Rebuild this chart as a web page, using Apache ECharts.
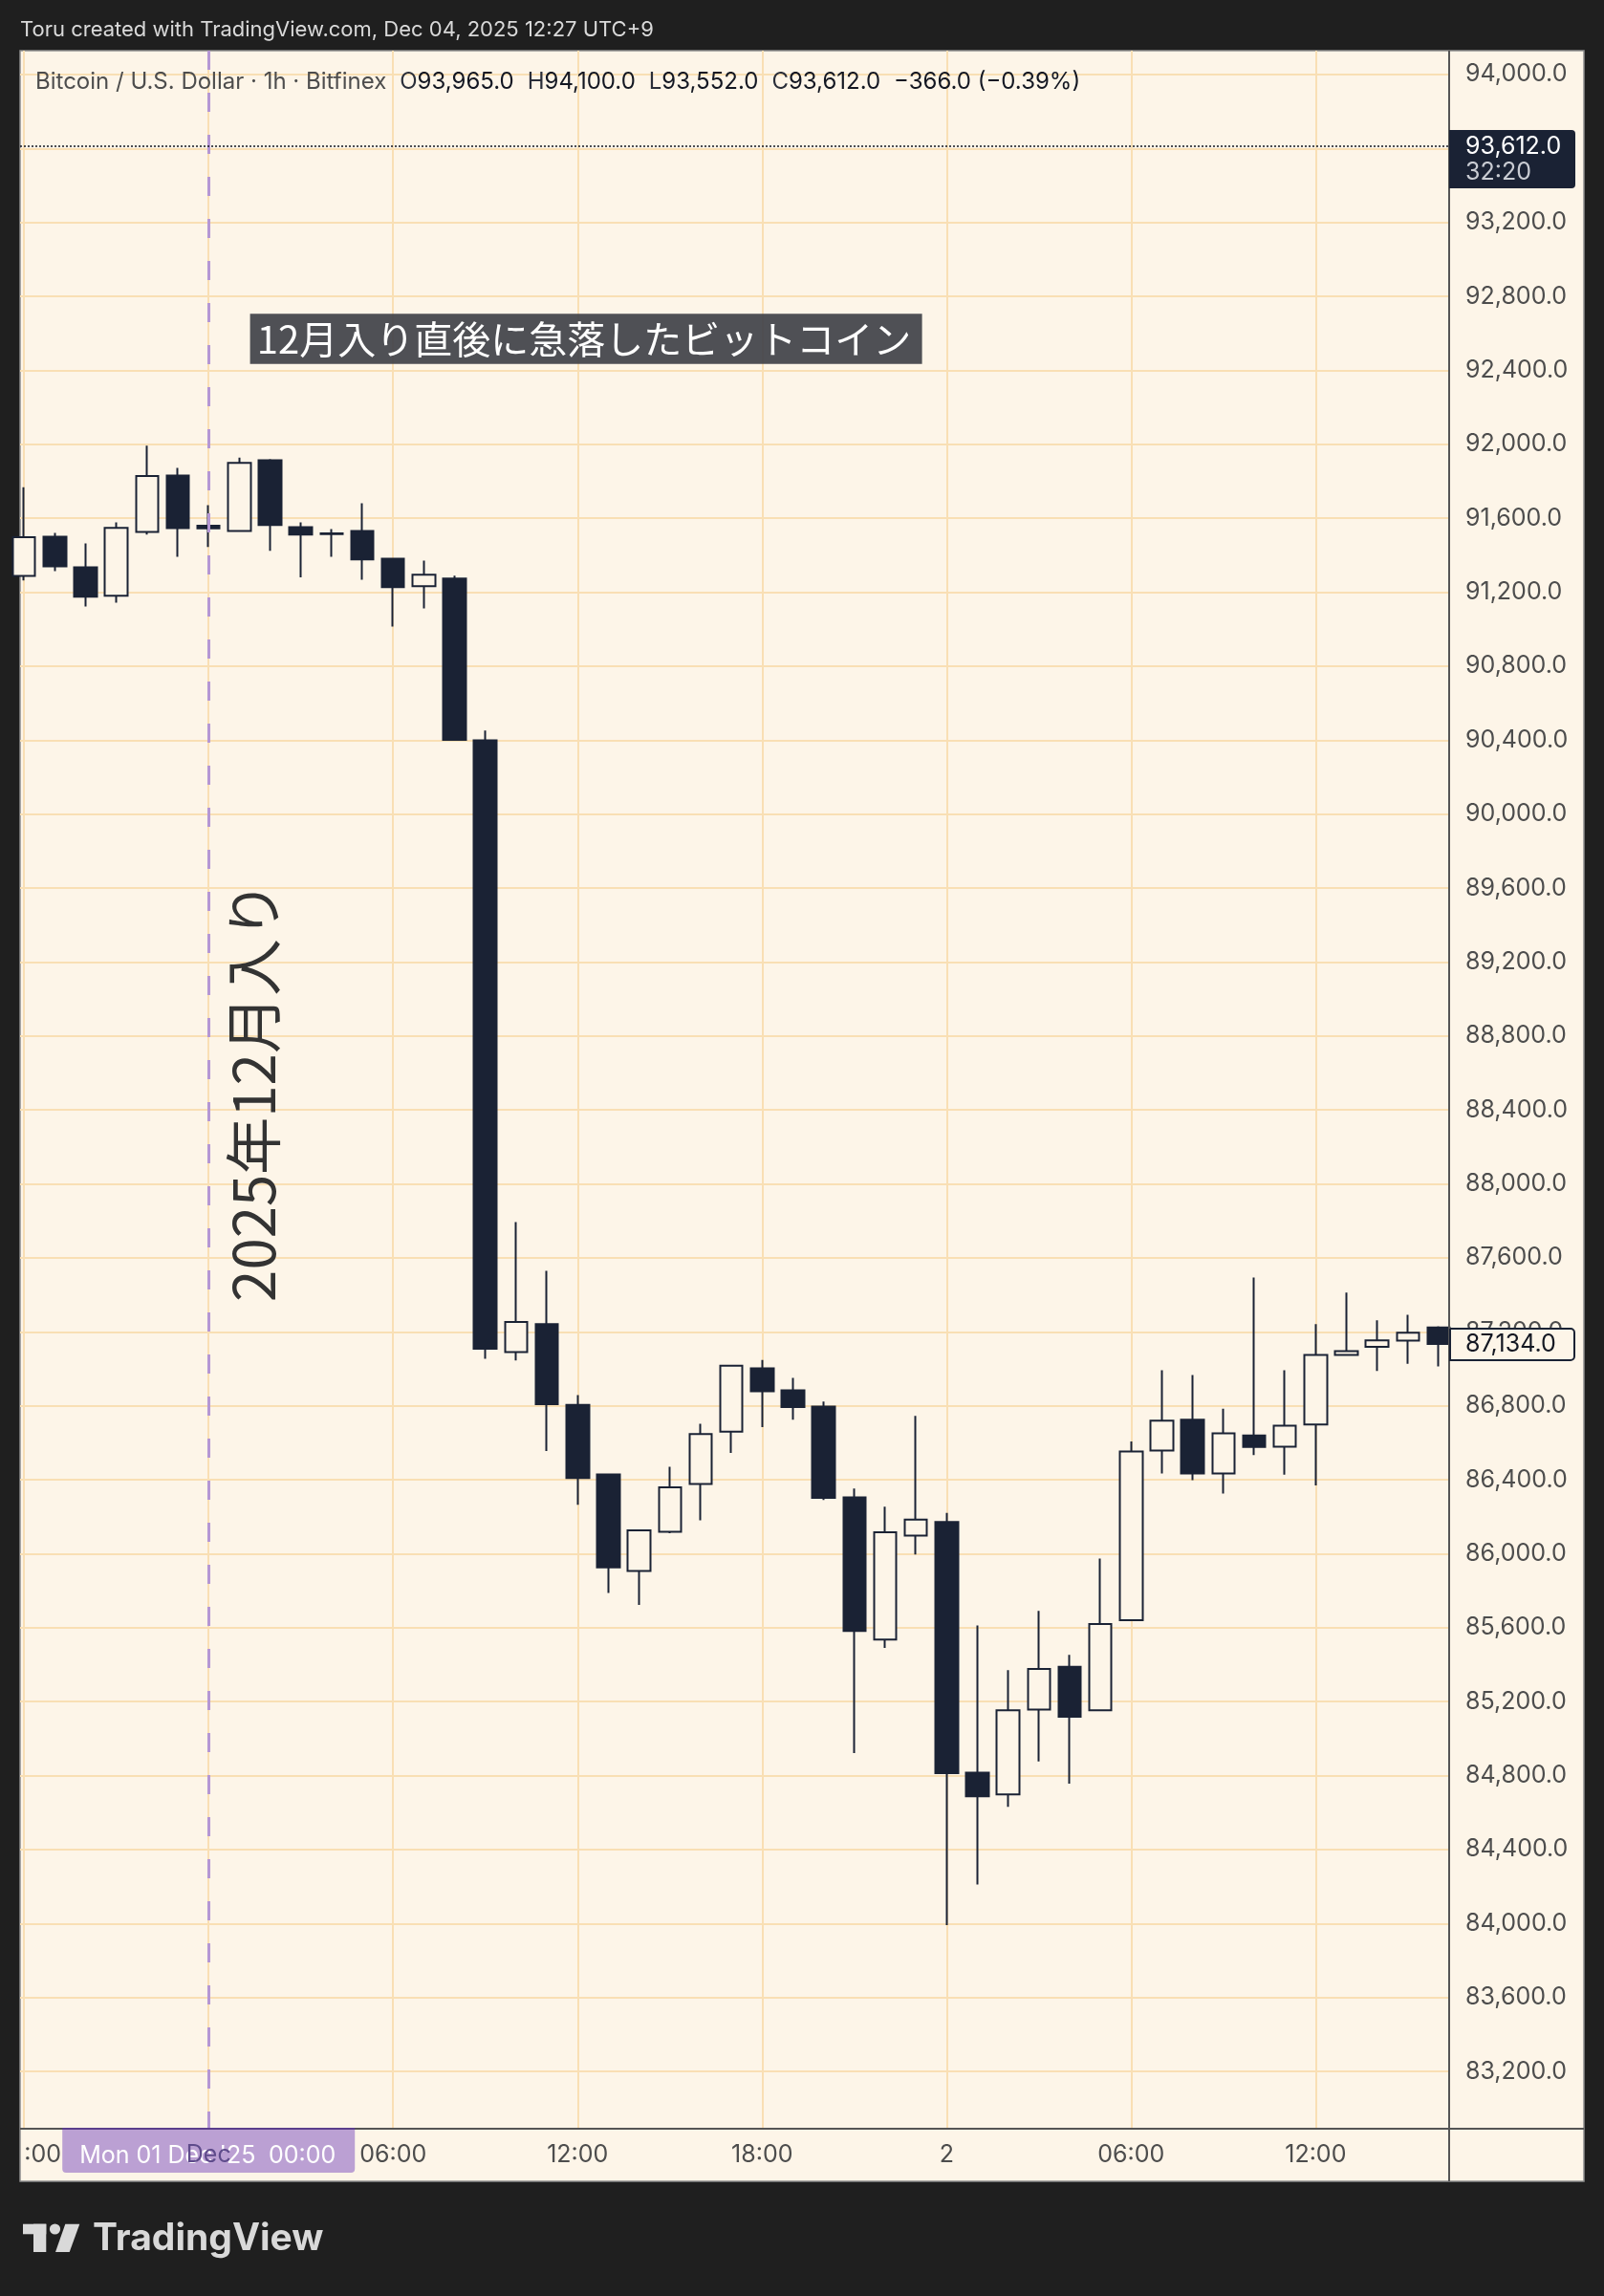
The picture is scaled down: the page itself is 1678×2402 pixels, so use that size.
<!DOCTYPE html>
<html><head><meta charset="utf-8">
<script src="https://cdn.jsdelivr.net/npm/echarts@6/dist/echarts.min.js"></script>
<style>html,body{margin:0;padding:0;background:#1f1f1f;}#c{width:1678px;height:2402px;}</style>
</head><body><div id="c"></div>
<script>
// ---- data (1h candles, Bitfinex BTC/USD) ----
const hours = [
 '11/30 18:00','11/30 19:00','11/30 20:00','11/30 21:00','11/30 22:00','11/30 23:00',
 '12/01 00:00','12/01 01:00','12/01 02:00','12/01 03:00','12/01 04:00','12/01 05:00',
 '12/01 06:00','12/01 07:00','12/01 08:00','12/01 09:00','12/01 10:00','12/01 11:00',
 '12/01 12:00','12/01 13:00','12/01 14:00','12/01 15:00','12/01 16:00','12/01 17:00',
 '12/01 18:00','12/01 19:00','12/01 20:00','12/01 21:00','12/01 22:00','12/01 23:00',
 '12/02 00:00','12/02 01:00','12/02 02:00','12/02 03:00','12/02 04:00','12/02 05:00',
 '12/02 06:00','12/02 07:00','12/02 08:00','12/02 09:00','12/02 10:00','12/02 11:00',
 '12/02 12:00','12/02 13:00','12/02 14:00','12/02 15:00','12/02 16:00'];
const openP = [91288,91500,91335,91181,91526,91831,91560,91531,91914,91552,91518,91531,
 91381,91233,91274,90399,87090,87241,86805,86429,85906,86119,86377,86660,
 87003,86883,86795,86304,85535,86098,86171,84816,84698,85157,85388,85153,
 85640,86558,86725,86434,86639,86579,86699,87075,87119,87152,87223];
const highP = [91768,91521,91464,91578,91992,91873,91671,91928,91920,91578,91542,91681,
 91385,91371,91290,90452,87793,87530,86858,86430,86126,86470,86703,87020,
 87048,86951,86823,86352,86254,86745,86221,85612,85370,85691,85453,85974,
 86607,86992,86966,86784,87493,86992,87241,87412,87262,87292,87230];
const lowP = [91264,91314,91123,91144,91512,91392,91444,91528,91424,91280,91392,91268,
 91014,91113,90400,87054,87045,86555,86264,85788,85723,86110,86181,86545,
 86685,86725,86290,84921,85490,85996,83991,84211,84631,84876,84756,85150,
 85635,86434,86397,86325,86533,86427,86369,87070,86988,87027,87013];
const closeP = [91497,91340,91176,91548,91828,91547,91545,91900,91564,91512,91515,91378,
 91228,91295,90402,87108,87253,86808,86409,85926,86126,86359,86647,87016,
 86878,86793,86302,85582,86116,86184,84813,84688,85153,85377,85118,85619,
 86553,86720,86434,86651,86577,86692,87075,87095,87154,87195,87134];
const priceTicks = [94000,93600,93200,92800,92400,92000,91600,91200,90800,90400,90000,
 89600,89200,88800,88400,88000,87600,87200,86800,86400,86000,85600,85200,84800,84400,
 84000,83600,83200];
const timeTickIdx = [0,6,12,18,24,30,36,42];
const timeTickLabels = [':00','Dec','06:00','12:00','18:00','2','06:00','12:00'];
const lastPrice = 93612, lastTimer = '32:20', lastVisibleClose = 87134;
const monthStartIdx = 6;
const legendTitle = 'Bitcoin / U.S. Dollar · 1h · Bitfinex';
const legendKeys = ['O','H','L','C'];
const legendVals = ['93,965.0','94,100.0','93,552.0','93,612.0'];
const legendChange = '−366.0 (−0.39%)';
const headerText = 'Toru created with TradingView.com, Dec 04, 2025 12:27 UTC+9';
const noteText = '12月入り直後に急落したビットコイン';
const vertText = '2025年12月入り';
const dateTag = ["Mon 01 Dec '25", '00:00'];

// ---- chart ----
const FONT = 'Inter, Roboto, "Noto Sans", sans-serif';
const JP = '"Noto Sans CJK JP", "Noto Sans", sans-serif';
const BG = '#fdf5e8', DARK = '#1a2234', GRIDC = '#f9dfb4', AX = '#4d4d4d';
const AFS = 25;
const fmt = v => Number(v).toLocaleString('en-US',{minimumFractionDigits:1,maximumFractionDigits:1});
const chart = echarts.init(document.getElementById('c'), null, {width:1678, height:2402});
const candleData = hours.map((h,i)=>[i, openP[i], closeP[i], lowP[i], highP[i]]);

chart.setOption({
  backgroundColor: '#1f1f1f',
  animation: false,
  grid: {left:21, top:53, width:1495, height:2173, containLabel:false},
  xAxis: {
    type:'value', min:-0.1306, max:46.342,
    axisLine:{show:false}, axisTick:{show:false, customValues:timeTickIdx},
    axisLabel:{customValues:timeTickIdx, alignMinLabel:'left',
      formatter: v => { const k = timeTickIdx.indexOf(v); return k===1 ? '{dec|Dec}' : timeTickLabels[k]; },
      color:AX, fontSize:AFS, fontFamily:FONT, margin:16, lineHeight:AFS,
      rich:{dec:{color:'#5e4b8b', fontSize:AFS, fontFamily:FONT, lineHeight:AFS}}},
    splitLine:{show:true, lineStyle:{color:GRIDC, width:2}}
  },
  yAxis: {
    type:'value', position:'right', min:82895, max:94129,
    axisLine:{show:false}, axisTick:{show:false, customValues:priceTicks},
    axisLabel:{customValues:priceTicks, formatter:fmt, color:AX, fontSize:AFS, fontFamily:FONT, margin:17},
    splitLine:{show:true, lineStyle:{color:GRIDC, width:2}}
  },
  series: [{
    type:'candlestick', data:candleData,
    dimensions:['idx','open','close','lowest','highest'],
    encode:{x:'idx', y:['open','close','lowest','highest']},
    barWidth:24, clip:true,
    itemStyle:{color:BG, color0:DARK, borderColor:DARK, borderColor0:DARK, borderWidth:2},
    markLine:{
      silent:true, symbol:['none','none'], label:{show:false}, animation:false,
      data:[
        {xAxis:monthStartIdx, lineStyle:{type:[20,24], dashOffset:3, color:'#b597d4', width:3, opacity:1}},
        {yAxis:lastPrice, lineStyle:{type:[2,2], color:'#131722', width:1.5, opacity:1}}
      ]
    }
  }]
});

const xp = i => chart.convertToPixel({xAxisIndex:0}, i);
const yp = v => chart.convertToPixel({yAxisIndex:0}, v);
const txt = (x,y,text,o) => Object.assign({type:'text', x, y, style:Object.assign({text, fill:'#fff', fontSize:AFS, fontFamily:FONT,
   align:'left', verticalAlign:'middle', textAlign:'left', textVerticalAlign:'middle'}, o||{})});

const xm = xp(monthStartIdx), yL = yp(lastPrice), yC = yp(lastVisibleClose);
let legendStr = '{t|' + legendTitle + '}';
legendKeys.forEach((k,i)=>{ legendStr += '{g|}{k|' + k + '}{v|' + legendVals[i] + '}'; });
legendStr += '{g|}{v|' + legendChange + '}';

const g = [
  {type:'rect', z:-100, shape:{x:21, y:53, width:1636, height:2229}, style:{fill:BG, stroke:'#8d8d8d', lineWidth:1.5}},
  // purple date tag under axis labels
  {type:'rect', z:-5, shape:{x:xm-153, y:2228, width:306, height:45, r:[0,0,4,4]}, style:{fill:'#bba0d3'}},
  Object.assign(txt(xm-135, 2255, dateTag[0], {fill:'#ffffff'}), {z:-4}),
  Object.assign(txt(xm+133, 2255, dateTag[1], {fill:'#ffffff', align:'right', textAlign:'right'}), {z:-4}),
  // separators
  {type:'line', z:5, shape:{x1:21, y1:2227, x2:1657, y2:2227}, style:{stroke:'#555555', lineWidth:2}},
  {type:'line', z:6, shape:{x1:xm-153, y1:2227, x2:xm+153, y2:2227}, style:{stroke:'#5b3f8c', lineWidth:2}},
  {type:'line', z:5, shape:{x1:1516, y1:53, x2:1516, y2:2282}, style:{stroke:'#555555', lineWidth:2}},
  // last price tag
  {type:'rect', z:10, shape:{x:1516, y:yL-17, width:132, height:61, r:[0,4,4,0]}, style:{fill:DARK}},
  Object.assign(txt(1533, yL, fmt(lastPrice), {fill:'#ffffff'}), {z:11}),
  Object.assign(txt(1533, yL+27, lastTimer, {fill:'#c9ccd3'}), {z:11}),
  // last visible close tag
  {type:'rect', z:10, shape:{x:1517, y:yC-16, width:130, height:33, r:[0,4,4,0]}, style:{fill:BG, stroke:DARK, lineWidth:2}},
  Object.assign(txt(1533, yC, fmt(lastVisibleClose), {fill:'#131722'}), {z:11}),
  // annotation
  {type:'rect', z:10, shape:{x:261.6, y:328.3, width:703, height:52.4}, style:{fill:'rgba(66,67,73,0.93)'}},
  Object.assign(txt(611, 355, noteText, {fill:'#ffffff', fontSize:40, fontFamily:JP, align:'center', textAlign:'center'}), {z:11}),
  Object.assign(txt(265.4, 1142, vertText, {fill:'#333333', fontSize:60, fontFamily:JP, align:'center', textAlign:'center'}), {z:11, rotation:Math.PI/2}),
  // header & legend
  txt(21, 31, headerText, {fill:'#d9d9d9', fontSize:22}),
  Object.assign(txt(37, 86, legendStr, {rich:{
    t:{fill:'#4d4d4d', color:'#4d4d4d', fontSize:24, fontFamily:FONT},
    k:{fill:'#2a2e39', color:'#2a2e39', fontSize:24, fontFamily:FONT},
    v:{fill:'#131722', color:'#131722', fontSize:24, fontFamily:FONT},
    g:{width:14}}}), {z:11}),
  // TradingView logo
  {type:'rect', shape:{x:24, y:2326.7, width:24.3, height:10.6}, style:{fill:'#d9d9d9'}},
  {type:'rect', shape:{x:35, y:2326.7, width:13.3, height:29.3}, style:{fill:'#d9d9d9'}},
  {type:'circle', shape:{cx:57.5, cy:2332, r:5.6}, style:{fill:'#d9d9d9'}},
  {type:'polygon', shape:{points:[[68.3,2326.7],[83.3,2326.7],[72.7,2356],[58,2356]]}, style:{fill:'#d9d9d9'}},
  txt(97, 2342, 'TradingView', {fill:'#d9d9d9', fontSize:39, fontWeight:'bold'})
];
chart.setOption({graphic: g});
</script></body></html>
